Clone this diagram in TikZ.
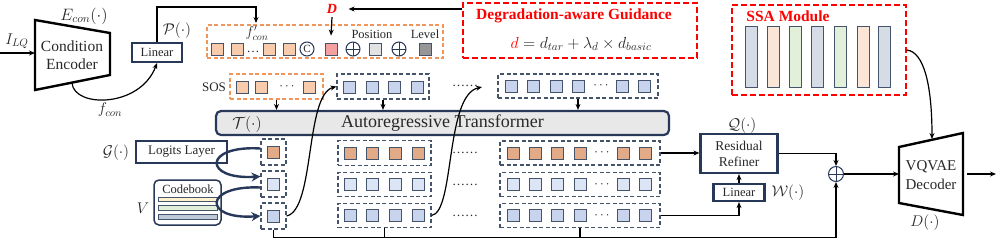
\RequirePackage{fix-cm}
\documentclass[tikz,border=0pt]{standalone}
\usepackage{fontspec}
\setmainfont{Liberation Serif}
\usepackage{tikz}
\usetikzlibrary{positioning,arrows.meta,calc}
\definecolor{navy}{RGB}{40,56,89}
\definecolor{grpdraw}{RGB}{68,84,106}
\colorlet{sqdraw}{grpdraw}
\definecolor{orangedash}{RGB}{240,150,90}
\definecolor{peach}{RGB}{248,203,173}
\definecolor{tokbrown}{RGB}{226,170,135}
\definecolor{toklight}{RGB}{220,229,245}
\definecolor{tokblue}{RGB}{200,211,238}
\definecolor{tokpink}{RGB}{245,160,160}
\definecolor{poslight}{RGB}{226,226,226}
\definecolor{lvldark}{RGB}{150,150,150}
\definecolor{tfgray}{RGB}{232,232,232}
\definecolor{ssagray}{RGB}{214,220,229}
\definecolor{ssapeach}{RGB}{251,229,214}
\definecolor{ssagreen}{RGB}{226,240,217}
\definecolor{cbyellow}{RGB}{255,242,204}
\definecolor{cbgreen}{RGB}{226,240,217}
\definecolor{cbblue}{RGB}{190,200,215}
\definecolor{guidered}{RGB}{255,0,0}
\definecolor{textgray}{RGB}{40,40,40}

\begin{document}
\begin{tikzpicture}[x=1pt,y=-1pt,every node/.style={font=\fontsize{13}{15}\selectfont,text=textgray},
  arr/.style={-{Stealth[length=6pt,width=5pt]},line width=1.2pt},
  thk/.style={-{Stealth[length=9pt,width=9pt]},line width=2.4pt,draw=navy},
  sq/.style={draw=sqdraw,line width=0.9pt,minimum size=12pt,inner sep=0pt},
  grp/.style={draw=grpdraw,dash pattern=on 4pt off 2.5pt,line width=1.1pt,inner sep=0pt},
  grpo/.style={grp,draw=orangedash},
  redbox/.style={draw=guidered,dash pattern=on 6pt off 3pt,line width=1.6pt,inner sep=0pt},
  box/.style={draw=navy,line width=2.2pt,fill=white,inner sep=0pt},
  ssabar/.style={draw=sqdraw,line width=0.9pt,minimum width=12pt,minimum height=61pt,inner sep=0pt},
  trap/.style={draw=black,line width=2.4pt,line join=miter},
  oplus/.style={circle,draw=navy,line width=1pt,inner sep=0pt,fill=white,path picture={\draw[navy,line width=1pt] (path picture bounding box.north) -- (path picture bounding box.south) (path picture bounding box.west) -- (path picture bounding box.east);}},
  mlab/.style={font=\fontsize{15.5}{17}\selectfont}]
\useasboundingbox (0,0) rectangle (997,242);

% condition encoder
\node[align=center,font=\fontsize{15.5}{18}\selectfont] (enc) at (72,55) {Condition\\Encoder};
\draw[trap] (35,20) -- (110,33) -- (110,75) -- (35,90) -- cycle;
\node[mlab,font=\fontsize{16.5}{18}\selectfont] (elab) at (84,16) {$E_{con}(\cdot)$};
\node[mlab] (ilq) at (17,41) {$I_{LQ}$};
\coordinate (lqin) at (0,53);
\coordinate (encin) at (35,53);
\draw[arr] (lqin) -- (encin);
\node[box,minimum width=50pt,minimum height=19pt,font=\fontsize{12.5}{14}\selectfont] (lin1) at (157,52.5) {Linear};
\node[mlab] (plab) at (177,31) {$\mathcal{P}(\cdot)$};
\coordinate (encbot) at (72,83);
\draw[arr] (encbot) .. controls (74,108) and (140,108) .. (lin1.south);
\node[mlab] (fcon) at (110,110) {$f_{con}$};

% f'con tokens
\node[grpo,minimum width=236pt,minimum height=33pt] (fbox) at (325,41.5) {};
\foreach \x [count=\i] in {217,237,269,289} \node[sq,fill=peach] (fc\i) at (\x,49) {};
\node (fdots) at (253,52) {\dots};
\node[circle,draw=navy,line width=1pt,minimum size=14pt,inner sep=0pt,font=\fontsize{11}{12}\selectfont] (cat) at (307,49) {C};
\node[sq,fill=tokpink] (pk) at (331,49) {};
\node[oplus,minimum size=14pt] (add1) at (353,49) {};
\node[sq,fill=poslight] (pos) at (375,49) {};
\node[oplus,minimum size=14pt] (add2) at (399,49) {};
\node[sq,fill=lvldark] (lvl) at (425,49) {};
\node[font=\fontsize{14.5}{16}\selectfont] (fclab) at (257,33) {$f'_{con}$};
\node[font=\fontsize{12.5}{14}\selectfont] (poslab) at (372,34) {Position};
\node[font=\fontsize{12.5}{14}\selectfont] (lvllab) at (425,34) {Level};
\coordinate (fin) at (256,23);
\draw[arr] (lin1.north) -- ++(0,-35) -| (fin);

% degradation guidance
\node[text=guidered,font=\fontsize{14}{16}\selectfont\bfseries\itshape] (dlab) at (332,9) {D};
\draw[arr] (dlab.south) -- ([yshift=7pt]pk.north);
\node[redbox,minimum width=234pt,minimum height=55pt] (guide) at (580,30.5) {};
\node[text=guidered,font=\fontsize{15.5}{17}\selectfont\bfseries] (gtitle) at (574,16) {Degradation-aware Guidance};
\node[font=\fontsize{16}{18}\selectfont] (gform) at (581,44) {$\textcolor{guidered}{d} = d_{tar} + \lambda_d \times d_{basic}$};
\draw[arr] (dlab.east -| guide.west) -- ([xshift=8pt]dlab.east);

% SSA module
\node[redbox,minimum width=174pt,minimum height=90pt] (ssa) at (819,50) {};
\node[text=guidered,font=\fontsize{15.5}{17}\selectfont\bfseries] (ssat) at (788,16) {SSA Module};
\foreach \x/\c [count=\i] in {751/ssagray,773/ssapeach,795/ssagreen,817/ssagray,840/ssagreen,863/ssapeach,884/ssagray}
  \node[ssabar,fill=\c] (bar\i) at (\x,56.5) {};

% input token rows
\node (soslab) at (214,87) {SOS};
\node[grpo,minimum width=93pt,minimum height=25pt] (sos) at (276.5,86.5) {};
\foreach \x [count=\i] in {242,261,309} \node[sq,fill=peach] (s\i) at (\x,87) {};
\node (sdots) at (287,87) {$\cdots$};
\node[grp,minimum width=92pt,minimum height=25pt] (ta) at (383,86.5) {};
\foreach \x [count=\i] in {349,372,394,417} \node[sq,fill=tokblue] (ta\i) at (\x,87) {};
\node (tdots) at (465,86) {\dots\dots};
\node[grp,minimum width=160pt,minimum height=24pt] (tb) at (578,86) {};
\foreach \x [count=\i] in {511,533,556,578,622,644} \node[sq,fill=tokblue] (tb\i) at (\x,86) {};
\node (tbdots) at (601,86) {$\cdots$};

% transformer
\node[box,rounded corners=5pt,fill=tfgray,minimum width=453pt,minimum height=24pt,font=\fontsize{18}{20}\selectfont] (tf) at (442.5,123) {Autoregressive Transformer};
\node[font=\fontsize{16}{18}\selectfont] (tlab) at (247,124) {$\mathcal{T}(\cdot)$};
\draw[arr] (sos.south) -- (sos.south |- tf.north);
\draw[arr] (ta.south) -- (ta.south |- tf.north);
\draw[arr] (tb.south) -- (tb.south |- tf.north);

% output token columns
\foreach \y/\c [count=\i] in {152/tokbrown,184/toklight,216/tokblue} {
  \node[grp,minimum width=25pt,minimum height=26pt] (a\i) at (273.5,\y) {};
  \node[sq,fill=\c] (a\i-s) at (273,\y) {};
}
\foreach \y/\c [count=\i] in {153/tokbrown,184.5/toklight,215.5/tokblue} {
  \node[grp,minimum width=93pt,minimum height=24.5pt] (b\i) at (384.5,\y) {};
  \foreach \x [count=\j] in {350,372,395,418} \node[sq,fill=\c] (b\i-s\j) at (\x,\y) {};
  \node (bd\i) at (465,\y) {\dots\dots};
  \node[grp,minimum width=160pt,minimum height=24pt] (c\i) at (580,\y) {};
  \foreach \x [count=\j] in {513,535,557,580,623,645} \node[sq,fill=\c] (c\i-s\j) at (\x,\y) {};
  \node (cd\i) at (602,\y) {$\cdots$};
}

% logits and codebook
\node[box,minimum width=91pt,minimum height=22pt] (logit) at (181.5,152) {Logits Layer};
\node[mlab] (glab) at (116,153) {$\mathcal{G}(\cdot)$};
\node[draw=navy,line width=1.5pt,rounded corners=5pt,minimum width=67pt,minimum height=45pt,fill=white] (cb) at (187.5,202.5) {};
\node[font=\fontsize{12.5}{14}\selectfont] (cbt) at (188,189) {Codebook};
\foreach \y/\c [count=\i] in {199.5/cbyellow,208/cbgreen,217/cbblue}
  \node[draw=sqdraw,line width=0.8pt,fill=\c,minimum width=59pt,minimum height=4.5pt,inner sep=0pt] (cbr\i) at (187.5,\y) {};
\node[mlab] (vlab) at (143,208) {$V$};
\draw[thk] (a1.165) .. controls (203,145) and (203,180) .. (a2.150);
\draw[thk] (a2.195) .. controls (203,185) and (203,220) .. (a3.west);

% feedback curves
\coordinate (tbin) at (482,87);
\draw[arr] (a3.east) .. controls (315,210) and (305,95) .. (ta.west);
\draw[arr] (b3.east) .. controls (455,212) and (445,95) .. (tbin);

% refiner
\node[box,minimum width=77pt,minimum height=39pt,align=center,font=\fontsize{13.5}{16}\selectfont] (ref) at (739,153.5) {Residual\\Refiner};
\node[mlab] (qlab) at (742,126) {$\mathcal{Q}(\cdot)$};
\node[box,minimum width=51pt,minimum height=17pt,font=\fontsize{12.5}{14}\selectfont] (lin2) at (739,192.5) {Linear};
\node[mlab] (wlab) at (788,193) {$\mathcal{W}(\cdot)$};
\node[oplus,minimum size=15pt] (op) at (836,174) {};
\draw[arr] (c1.east) -- (c1.east -| ref.west);
\draw[arr] (lin2.north) -- (ref.south);
\draw[arr] (c3.east) -| (lin2.south);
\draw[arr] (ref.east) -| (op.north);
\draw[arr] (a3.south) -- ++(0,8) -| (op.south);
\draw[line width=1.2pt] (b3.south) -- ++(0,9);
\draw[line width=1.2pt] (c3.south) -- ++(0,9);

% decoder
\node[align=center,font=\fontsize{15}{19}\selectfont] (dec) at (931,175) {VQVAE\\Decoder};
\draw[trap] (899,147) -- (963,133) -- (963,215) -- (899,203) -- cycle;
\node[mlab] (dlab2) at (925,223) {$D(\cdot)$};
\coordinate (decin) at (899,174);
\coordinate (decout) at (967,174);
\coordinate (outend) at (996,174);
\coordinate (dectop) at (932,139);
\draw[arr] (op.east) -- (decin);
\draw[arr,line width=2pt] (decout) -- (outend);
\draw[arr] (ssa.east) .. controls (924,52) and (932,85) .. (dectop);
\end{tikzpicture}
\end{document}
